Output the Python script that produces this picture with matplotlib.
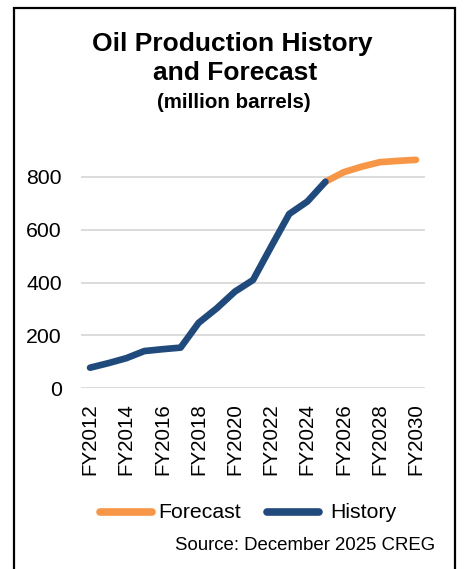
import matplotlib
matplotlib.use("Agg")
import matplotlib.pyplot as plt
from matplotlib.patches import Rectangle
from matplotlib.lines import Line2D

plt.rcParams['font.family'] = ['Liberation Sans', 'DejaVu Sans']

years = list(range(2012, 2031))
labels = [f"FY{y}" for y in years]
history = [78, 95, 114, 141, 148, 154, 248, 303, 366, 410, 536, 660, 707, 782]
forecast = [782, 818, 839, 856, 861, 865]
forecast_start = 13
legend_labels = ['Forecast', 'History']

navy = '#214A7C'
orange = '#F79646'

W, H = 466, 569
fig = plt.figure(figsize=(W / 100, H / 100), dpi=100)
fig.patch.set_facecolor('white')

def fx(px):
    return px / W

def fy(py):
    return 1 - py / H

# plot area in pixels
left, right = 81, 425
y0_px, y800_px = 388.3, 177.0
ppu = (y0_px - y800_px) / 800
top_val = 900
top_px = y0_px - top_val * ppu
ax = fig.add_axes([fx(left), fy(y0_px), (right - left) / W, (y0_px - top_px) / H])

xf = list(range(forecast_start, forecast_start + len(forecast)))
xh = list(range(len(history)))
ax.plot(xf, forecast, color=orange, lw=4.8, solid_capstyle='round', solid_joinstyle='round', zorder=3)
ax.plot(xh, history, color=navy, lw=4.8, solid_capstyle='round', solid_joinstyle='round', zorder=4)

ax.set_xlim(-0.5, len(years) - 0.5)
ax.set_ylim(0, top_val)
ax.set_yticks([0, 200, 400, 600, 800])
ax.set_yticklabels(['0', '200', '400', '600', '800'], fontsize=15.3)
ax.set_xticks(list(range(0, len(years), 2)))
ax.set_xticklabels(labels[::2], rotation=90, fontsize=14.8)
ax.tick_params(axis='both', length=0)
ax.tick_params(axis='y', pad=13.7)
ax.tick_params(axis='x', pad=10.5)
ax.grid(axis='y', color='#D9D9D9', lw=1.3)
ax.set_axisbelow(True)
for s in ax.spines.values():
    s.set_visible(False)

fig.text(fx(232), fy(43.5), 'Oil Production History', ha='center', va='center',
         fontsize=19, fontweight='bold')
fig.text(fx(235), fy(73), 'and Forecast', ha='center', va='center',
         fontsize=19, fontweight='bold')
fig.text(fx(234), fy(103), '(million barrels)', ha='center', va='center',
         fontsize=14.8, fontweight='bold')

# legend (manually laid out)
ly = 512
fig.add_artist(Line2D([fx(100), fx(152)], [fy(ly), fy(ly)], color=orange, lw=5.5,
                      solid_capstyle='round', transform=fig.transFigure))
fig.text(fx(158), fy(ly + 1), legend_labels[0], ha='left', va='center', fontsize=15.3)
fig.add_artist(Line2D([fx(267), fx(319)], [fy(ly), fy(ly)], color=navy, lw=5.5,
                      solid_capstyle='round', transform=fig.transFigure))
fig.text(fx(330), fy(ly + 1), legend_labels[1], ha='left', va='center', fontsize=15.3)

fig.text(fx(435), fy(545), 'Source: December 2025 CREG', ha='right', va='center', fontsize=13.4)

fig.patches.append(Rectangle((fx(14), -0.05), (455 - 14) / W, fy(8) + 0.05,
                             transform=fig.transFigure, fill=False, edgecolor='black', lw=1.6))

fig.savefig('out.png', dpi=100)
